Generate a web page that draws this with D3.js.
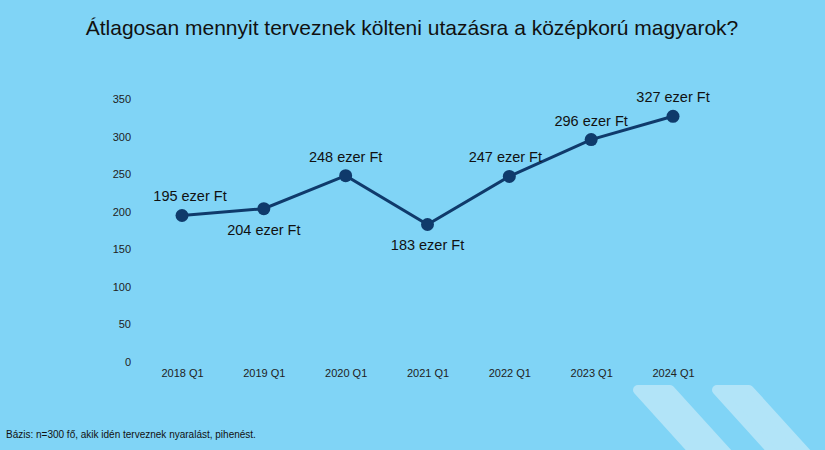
<!DOCTYPE html>
<html>
<head>
<meta charset="utf-8">
<script src="https://cdn.jsdelivr.net/npm/d3@7"></script>
<style>
  body { margin: 0; background: #80d4f6; }
  svg { display: block; font-family: "Liberation Sans", Arial, sans-serif; }
</style>
</head>
<body>
<div id="root"></div>
<script>
const categories = ['2018 Q1', '2019 Q1', '2020 Q1', '2021 Q1', '2022 Q1', '2023 Q1', '2024 Q1'];
const values = [195, 204, 248, 183, 247, 296, 327];
const yTicks = [0, 50, 100, 150, 200, 250, 300, 350];
// where each value label sits relative to its point
const labelPos = ['above', 'below', 'above', 'below', 'aboveLeft', 'above', 'above'];

const width = 825, height = 450;
const svg = d3.select('#root').append('svg')
  .attr('width', width)
  .attr('height', height);

svg.append('rect').attr('width', width).attr('height', height).attr('fill', '#80d4f6');

// decorative chevrons bottom right
const chev = (x0) => [[x0, 390], [x0 + 32, 390], [x0 + 100, 465], [x0 + 68, 465]];
[638, 717].forEach((x0) => {
  svg.append('path')
    .attr('d', d3.line().curve(d3.curveLinearClosed)(chev(x0)))
    .attr('fill', '#b2e4f8')
    .attr('stroke', '#b2e4f8')
    .attr('stroke-width', 10)
    .attr('stroke-linejoin', 'round');
});

svg.append('text')
  .attr('x', 412).attr('y', 35)
  .attr('text-anchor', 'middle')
  .attr('font-size', 21)
  .attr('fill', '#111')
  .text('Átlagosan mennyit terveznek költeni utazásra a középkorú magyarok?');

const x = d3.scalePoint().domain(categories).range([182, 673]);
const y = d3.scaleLinear().domain([0, 350]).range([362, 99]);

const yAxis = svg.append('g')
  .attr('transform', 'translate(131,0)')
  .call(d3.axisLeft(y).tickValues(yTicks).tickSize(0).tickPadding(0));
yAxis.select('.domain').remove();
yAxis.selectAll('text').attr('font-size', 11).attr('fill', '#222').attr('font-family', 'Liberation Sans, Arial, sans-serif');

const xAxis = svg.append('g')
  .attr('transform', 'translate(0,369)')
  .call(d3.axisBottom(x).tickSize(0).tickPadding(0));
xAxis.select('.domain').remove();
xAxis.selectAll('text').attr('font-size', 11).attr('fill', '#222').attr('font-family', 'Liberation Sans, Arial, sans-serif');

const data = categories.map((c, i) => ({ c, v: values[i], pos: labelPos[i] }));

svg.append('path')
  .datum(data)
  .attr('fill', 'none')
  .attr('stroke', '#0f3a6b')
  .attr('stroke-width', 3)
  .attr('d', d3.line().x((d) => x(d.c)).y((d) => y(d.v)));

svg.selectAll('circle.pt')
  .data(data)
  .join('circle')
  .attr('class', 'pt')
  .attr('cx', (d) => x(d.c))
  .attr('cy', (d) => y(d.v))
  .attr('r', 6.5)
  .attr('fill', '#0f3a6b');

svg.selectAll('text.lbl')
  .data(data)
  .join('text')
  .attr('class', 'lbl')
  .attr('x', (d) => x(d.c) + (d.pos === 'aboveLeft' ? -4 : (d.pos === 'above' && d.c === '2018 Q1' ? 8 : 0)))
  .attr('y', (d) => y(d.v) + (d.pos === 'below' ? 26 : -14))
  .attr('text-anchor', 'middle')
  .attr('font-size', 14.5)
  .attr('fill', '#111')
  .text((d) => `${d.v} ezer Ft`);

svg.append('text')
  .attr('x', 6).attr('y', 438)
  .attr('font-size', 10)
  .attr('fill', '#111')
  .text('Bázis: n=300 fő, akik idén terveznek nyaralást, pihenést.');
</script>
</body>
</html>
